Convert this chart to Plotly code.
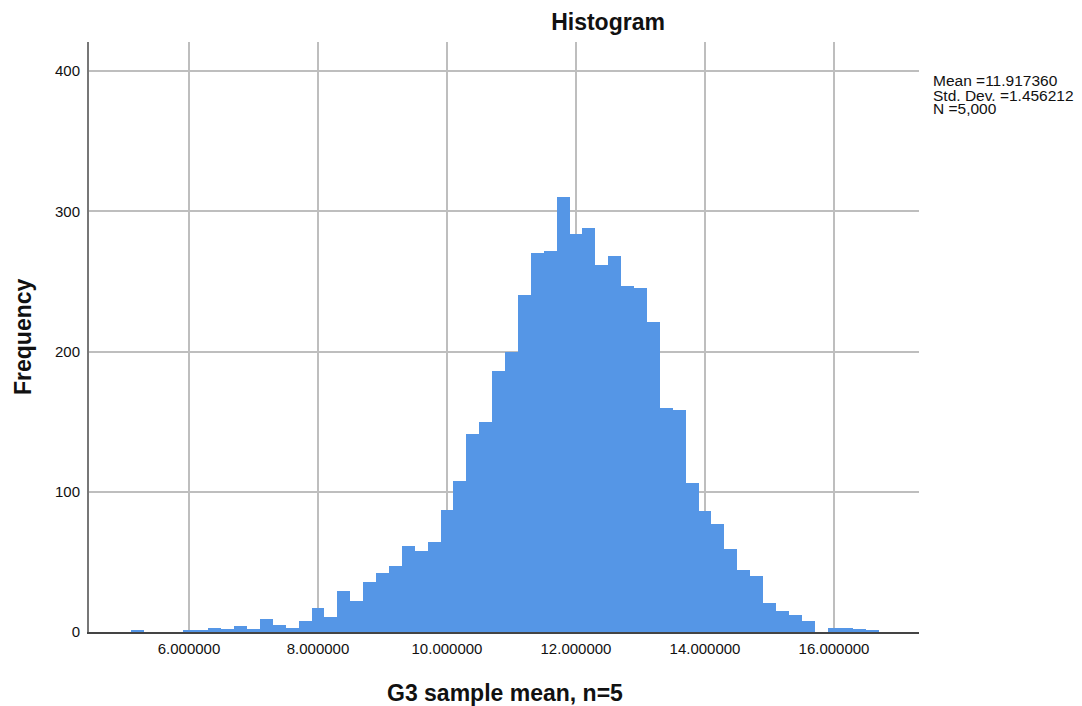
import plotly.graph_objects as go

# histogram bins (centres, width 0.2) and counts
bin_centers = [5.2, 5.4, 5.6, 5.8, 6.0, 6.2, 6.4, 6.6, 6.8, 7.0, 7.2, 7.4, 7.6, 7.8,
               8.0, 8.2, 8.4, 8.6, 8.8, 9.0, 9.2, 9.4, 9.6, 9.8, 10.0, 10.2, 10.4,
               10.6, 10.8, 11.0, 11.2, 11.4, 11.6, 11.8, 12.0, 12.2, 12.4, 12.6,
               12.8, 13.0, 13.2, 13.4, 13.6, 13.8, 14.0, 14.2, 14.4, 14.6, 14.8,
               15.0, 15.2, 15.4, 15.6, 15.8, 16.0, 16.2, 16.4, 16.6]
counts = [1, 0, 0, 0, 1, 1, 3, 2, 4, 2, 9, 5, 3, 8,
          17, 11, 29, 22, 36, 42, 47, 61, 58, 64, 87, 108, 141,
          150, 186, 200, 240, 270, 272, 310, 284, 288, 262, 268,
          247, 245, 221, 160, 158, 106, 86, 77, 59, 44, 40,
          21, 15, 12, 8, 0, 3, 3, 2, 1]
bin_width = 0.2

x_ticks = [6, 8, 10, 12, 14, 16]
y_ticks = [0, 100, 200, 300, 400]

stats_lines = ['Mean =11.917360', 'Std. Dev. =1.456212', 'N =5,000']

FONT = 'Liberation Sans, Arial, sans-serif'

fig = go.Figure(
    go.Bar(
        x=bin_centers,
        y=counts,
        width=bin_width,
        marker={'color': '#5596e6', 'line': {'width': 0}},
        showlegend=False,
    )
)

# the page body has an 8px margin, so work in window pixels and shift
OFF = 8
W, H = 1082 - OFF, 706 - OFF
# plot area in window pixels: 89..919 wide, 42..632 tall
L, R, T, B = 89, 919, 42, 632


def px_x(x):
    return (x - L) / (R - L)


def px_y(y):
    return (B - y) / (B - T)


annotations = [
    dict(text='<b>G3 sample mean, n=5</b>', x=px_x(505), y=px_y(693),
         font={'size': 23, 'color': '#111'}),
    dict(text='<b>Frequency</b>', x=px_x(23), y=px_y(337), textangle=-90,
         font={'size': 23, 'color': '#111'}),
]
for i, line in enumerate(stats_lines):
    annotations.append(dict(text=line, x=px_x(931), y=px_y(81 + 14 * i),
                            xanchor='left', font={'size': 15.5, 'color': '#111'}))
for a in annotations:
    a.update(xref='paper', yref='paper', showarrow=False)
    a.setdefault('xanchor', 'center')
    a.setdefault('yanchor', 'middle')

fig.update_layout(
    width=W,
    height=H,
    bargap=0,
    plot_bgcolor='white',
    paper_bgcolor='white',
    font={'family': FONT, 'color': '#111'},
    margin={'l': L - OFF, 'r': W - (R - OFF), 't': T - OFF, 'b': H - (B - OFF), 'pad': 0},
    title={'text': '<b>Histogram</b>', 'x': (608 - OFF) / W, 'y': 1 - (22 - OFF) / H,
           'xanchor': 'center', 'yanchor': 'middle', 'font': {'size': 23, 'color': '#111'}},
    annotations=annotations,
    xaxis={
        'range': [4.45, 17.318],
        'tickvals': x_ticks,
        'tickformat': '.6f',
        'tickfont': {'size': 15},
        'ticks': 'outside', 'ticklen': 2, 'tickcolor': 'rgba(0,0,0,0)',
        'showgrid': True, 'gridcolor': '#bebebe', 'gridwidth': 1.5,
        'zeroline': False,
        'showline': True, 'linecolor': '#444', 'linewidth': 2,
        'layer': 'below traces',
    },
    yaxis={
        'range': [0, 420.7],
        'tickvals': y_ticks,
        'tickfont': {'size': 15},
        'ticks': 'outside', 'ticklen': 4, 'tickcolor': 'rgba(0,0,0,0)',
        'showgrid': True, 'gridcolor': '#bebebe', 'gridwidth': 1.5,
        'zeroline': False,
        'showline': True, 'linecolor': '#777', 'linewidth': 2,
        'layer': 'below traces',
    },
)

fig.write_html('out.html')
